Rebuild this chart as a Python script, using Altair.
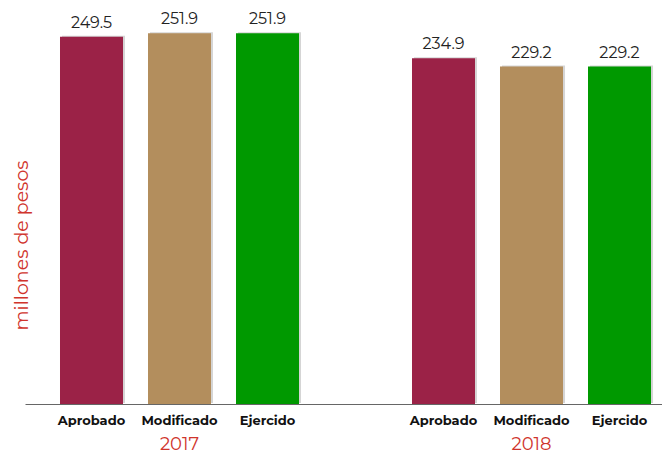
import altair as alt
import pandas as pd

years = ["2017", "2018"]
categories = ["Aprobado", "Modificado", "Ejercido"]
values_2017 = [249.5, 251.9, 251.9]
values_2018 = [234.9, 229.2, 229.2]
colors = ["#9B2247", "#B38E5D", "#009900"]

slots = [f"2017|{c}" for c in categories] + ["gap|"] + [f"2018|{c}" for c in categories]

rows = []
for y, vals in zip(years, [values_2017, values_2018]):
    for c, v in zip(categories, vals):
        rows.append({"slot": f"{y}|{c}", "year": y, "cat": c, "value": v})
df = pd.DataFrame(rows)
year_df = pd.DataFrame({"slot": [f"{y}|Modificado" for y in years], "year": years})

W, H = 637, 396
FONT = "Montserrat, 'Open Sans', sans-serif"
RED = "#D0342C"

x = alt.X(
    "slot:N",
    scale=alt.Scale(domain=slots, paddingInner=0.284, paddingOuter=0.2613, align=0.761),
    axis=alt.Axis(
        title=None,
        labelExpr="split(datum.label, '|')[1]",
        labelAngle=0,
        ticks=False,
        labelPadding=10,
        labelFont=FONT,
        labelFontWeight="bold",
        labelFontSize=13,
        labelColor="#111",
        domainColor="#666",
        domainWidth=1,
    ),
)
y = alt.Y(
    "value:Q",
    scale=alt.Scale(domain=[0, 269], nice=False),
    axis=alt.Axis(
        title="millones de pesos",
        labels=False,
        ticks=False,
        domain=False,
        grid=False,
        titleFont=FONT,
        titleFontSize=19,
        titleFontWeight="normal",
        titleColor=RED,
        titleAngle=270,
        titleAlign="center",
        titleBaseline="middle",
        titleX=-4,
        titleY=237,
    ),
)

base = alt.Chart(df)
shadow = base.mark_bar(color="#888", opacity=0.35, xOffset=2, yOffset=-1).encode(x=x, y=y)
bars = base.mark_bar().encode(
    x=x,
    y=y,
    color=alt.Color("cat:N", scale=alt.Scale(domain=categories, range=colors), legend=None),
)
labels = base.mark_text(baseline="bottom", dy=-6, font=FONT, fontSize=16, color="#222").encode(
    x=x, y=y, text=alt.Text("value:Q", format=".1f")
)
year_text = alt.Chart(year_df).mark_text(
    font=FONT, fontSize=18, color=RED, baseline="middle"
).encode(x=alt.X("slot:N", scale=alt.Scale(domain=slots)), y=alt.value(H + 41), text="year:N")

chart = (
    alt.layer(shadow, bars, labels, year_text)
    .properties(
        width=W,
        height=H,
        autosize=alt.AutoSizeParams(type="none"),
        padding={"left": 17, "top": 0, "right": 0, "bottom": 55},
    )
    .configure_view(strokeWidth=0)
)

chart.save("out.html", embed_options={"renderer": "svg", "actions": False})
